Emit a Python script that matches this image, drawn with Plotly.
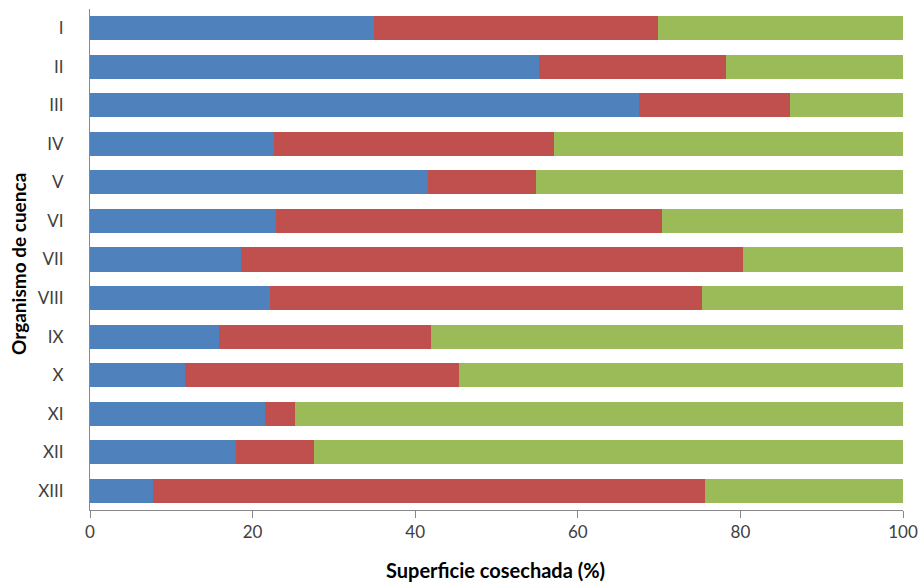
import plotly.graph_objects as go

categories = ["I", "II", "III", "IV", "V", "VI", "VII", "VIII", "IX", "X", "XI", "XII", "XIII"]
# segment values (percent)
serie_azul = [34.9, 55.2, 67.5, 22.6, 41.6, 22.9, 18.6, 22.2, 15.9, 11.7, 21.5, 17.9, 7.8]
serie_roja = [35.0, 23.0, 18.6, 34.5, 13.2, 47.4, 61.7, 53.1, 26.1, 33.7, 3.7, 9.6, 67.9]
serie_verde = [round(100 - a - r, 1) for a, r in zip(serie_azul, serie_roja)]

colors = ["#4F81BD", "#C0504D", "#9BBB59"]
names = ["Serie 1", "Serie 2", "Serie 3"]

fig = go.Figure()
for vals, c, n in zip([serie_azul, serie_roja, serie_verde], colors, names):
    fig.add_trace(go.Bar(
        y=categories, x=vals, orientation="h", name=n,
        marker=dict(color=c, line=dict(width=0)),
    ))

font_family = "Lato, 'Open Sans', sans-serif"
W, H = 923, 582
L, R, T, B = 90, 20, 9, 72
pw, ph = W - L - R, H - T - B

fig.update_layout(
    barmode="stack",
    bargap=0.375,
    width=W, height=H,
    margin=dict(l=L, r=R, t=T, b=B, autoexpand=False),
    plot_bgcolor="white", paper_bgcolor="white",
    showlegend=False,
    font=dict(family=font_family, color="#404040", size=17),
    xaxis=dict(
        range=[0, 100], dtick=20, showgrid=False, zeroline=False,
        showline=True, linecolor="#888888", linewidth=1,
        ticks="outside", ticklen=7, tickcolor="#888888",
        tickfont=dict(size=17, color="#404040"),
        automargin=False,
    ),
    yaxis=dict(
        autorange="reversed", showgrid=False, zeroline=False,
        showline=True, linecolor="#888888", linewidth=1,
        ticks="", ticklabelstandoff=22,
        tickfont=dict(size=17, color="#404040"),
        automargin=False,
    ),
    annotations=[
        dict(text="<b>Superficie cosechada (%)</b>", xref="paper", yref="paper",
             x=(495 - L) / pw, y=-(570 - (T + ph)) / ph, xanchor="center", yanchor="middle",
             showarrow=False, font=dict(size=20, color="#000000", family=font_family)),
        dict(text="<b>Organismo de cuenca</b>", xref="paper", yref="paper",
             x=(18 - L) / pw, y=((T + ph) - 264) / ph, xanchor="center", yanchor="middle",
             textangle=-90, showarrow=False,
             font=dict(size=19, color="#000000", family=font_family)),
    ],
)

fig.write_html("out.html", config={"displayModeBar": False},
               post_script="document.body.style.margin='0px';")
